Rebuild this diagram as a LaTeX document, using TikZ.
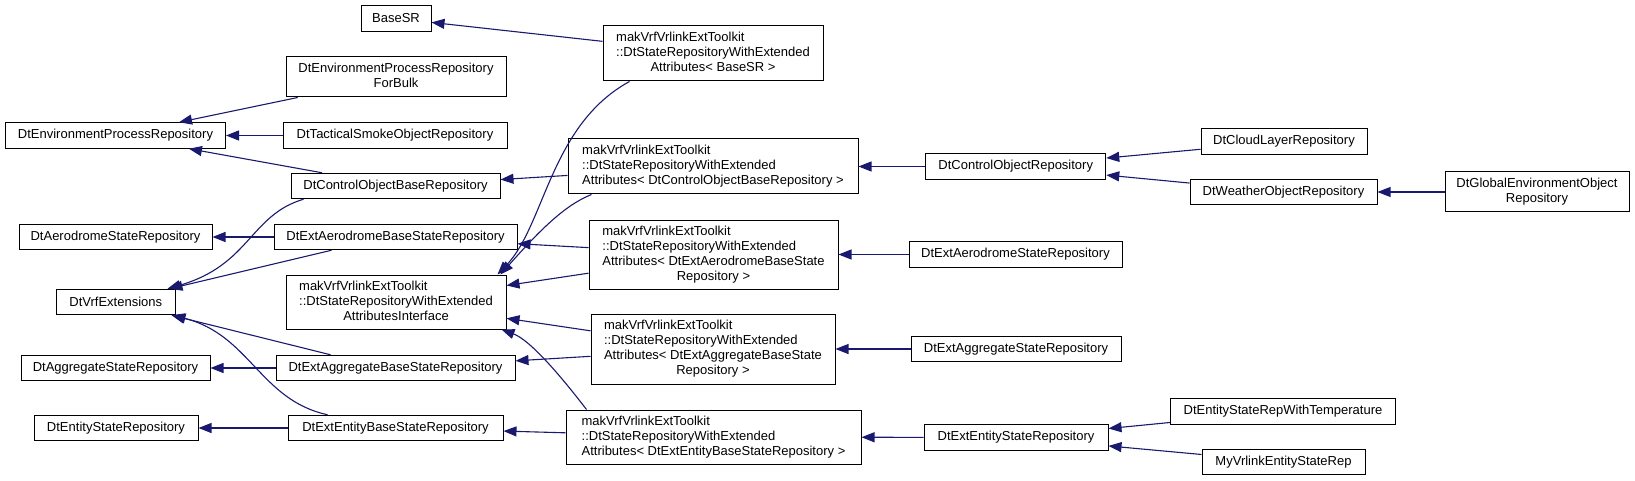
\documentclass[tikz,border=0pt]{standalone}
\usepackage{fontspec}
\setmainfont{Liberation Sans}
\usetikzlibrary{arrows.meta}
\definecolor{edgeblue}{HTML}{191970}
\newcommand{\tmpl}[2]{\begin{tabular}{@{}l@{}}#1\\\multicolumn{1}{@{}c@{}}{#2}\end{tabular}}

\begin{document}
\begin{tikzpicture}[x=1pt,y=-1pt,>={Triangle[length=13pt,width=10pt]},line width=1pt,
  font=\fontsize{13}{15}\selectfont,
  cls/.style={draw=black,fill=white,inner sep=0pt,minimum height=25.5},
  inh/.style={draw=edgeblue,line width=1.1pt,->}]
  \useasboundingbox (0,0) rectangle (1635,481);
  \node[cls,minimum width=70] (basesr) at (396,18.5) {BaseSR};
  \node[cls,minimum width=220,minimum height=40] (forbulk) at (396,77) {\tmpl{DtEnvironmentProcessRepository}{ForBulk}};
  \node[cls,minimum width=220] (epr) at (115.5,135.5) {DtEnvironmentProcessRepository};
  \node[cls,minimum width=224] (smoke) at (395,135.5) {DtTacticalSmokeObjectRepository};
  \node[cls,minimum width=209] (cob) at (395.5,186) {DtControlObjectBaseRepository};
  \node[cls,minimum width=193] (asr) at (115.5,237) {DtAerodromeStateRepository};
  \node[cls,minimum width=243] (eabs) at (395.5,237) {DtExtAerodromeBaseStateRepository};
  \node[cls,minimum width=118.5] (vrf) at (115.75,302) {DtVrfExtensions};
  \node[cls,minimum width=220,minimum height=54] (iface) at (396,302) {\tmpl{makVrfVrlinkExtToolkit\\::DtStateRepositoryWithExtended}{AttributesInterface}};
  \node[cls,minimum width=189] (agsr) at (115.5,368) {DtAggregateStateRepository};
  \node[cls,minimum width=239] (eagbs) at (395.5,368) {DtExtAggregateBaseStateRepository};
  \node[cls,minimum width=164] (esr) at (116,428) {DtEntityStateRepository};
  \node[cls,minimum width=215] (eebs) at (395.5,428) {DtExtEntityBaseStateRepository};

  \node[cls,minimum width=220,minimum height=55] (tbase) at (713,53.5) {\tmpl{makVrfVrlinkExtToolkit\\::DtStateRepositoryWithExtended}{Attributes< BaseSR >}};
  \node[cls,minimum width=290,minimum height=55] (tcob) at (713,166.5) {\tmpl{makVrfVrlinkExtToolkit\\::DtStateRepositoryWithExtended}{Attributes< DtControlObjectBaseRepository >}};
  \node[cls,minimum width=249,minimum height=69] (tae) at (713.5,254.5) {\tmpl{makVrfVrlinkExtToolkit\\::DtStateRepositoryWithExtended\\Attributes< DtExtAerodromeBaseState}{Repository >}};
  \node[cls,minimum width=244,minimum height=70] (tag) at (713,349) {\tmpl{makVrfVrlinkExtToolkit\\::DtStateRepositoryWithExtended\\Attributes< DtExtAggregateBaseState}{Repository >}};
  \node[cls,minimum width=295,minimum height=54] (tent) at (713.5,437) {\tmpl{makVrfVrlinkExtToolkit\\::DtStateRepositoryWithExtended}{Attributes< DtExtEntityBaseStateRepository >}};

  \node[cls,minimum width=180] (cor) at (1015.75,166.5) {DtControlObjectRepository};
  \node[cls,minimum width=213] (easr) at (1015.5,254.5) {DtExtAerodromeStateRepository};
  \node[cls,minimum width=210] (eagsr) at (1016,349) {DtExtAggregateStateRepository};
  \node[cls,minimum width=184] (eesr) at (1016,437.5) {DtExtEntityStateRepository};
  \node[cls,minimum width=166] (cloud) at (1284,141.5) {DtCloudLayerRepository};
  \node[cls,minimum width=187] (weather) at (1283.5,192) {DtWeatherObjectRepository};
  \node[cls,minimum width=225] (temp) at (1283,411.5) {DtEntityStateRepWithTemperature};
  \node[cls,minimum width=163] (myvr) at (1283.5,462) {MyVrlinkEntityStateRep};
  \node[cls,minimum width=184,minimum height=40] (glob) at (1537,192) {\tmpl{DtGlobalEnvironmentObject}{Repository}};

  \draw[inh] (tbase) -- (basesr);
  \draw[inh] (forbulk) -- (epr);
  \draw[inh] (smoke) -- (epr);
  \draw[inh] (cob) -- (epr);
  \draw[inh] (tcob) -- (cob);
  \draw[inh] (eabs) -- (asr);
  \draw[inh] (eagbs) -- (agsr);
  \draw[inh] (eebs) -- (esr);
  \draw[inh] ([xshift=-64]eabs.south) -- ([xshift=-6]vrf.north east);
  \draw[inh] ([xshift=-92]cob.south) .. controls (250,215) and (250,265) .. ([xshift=-8]vrf.north east);
  \draw[inh] ([xshift=-65]eagbs.north) -- ([xshift=-4]vrf.south east);
  \draw[inh] ([xshift=-68]eebs.north) .. controls (260,400) and (250,335) .. ([xshift=-3]vrf.south east);
  \draw[inh] ([xshift=27]tbase.south west) .. controls (550,125) and (545,225) .. ([xshift=-9]iface.north east);
  \draw[inh] ([xshift=24]tcob.south west) .. controls (565,205) and (540,230) .. ([xshift=-6]iface.north east);
  \draw[inh] (tae) -- (iface);
  \draw[inh] (tag) -- (iface);
  \draw[inh] ([xshift=21]tent.north west) .. controls (560,375) and (530,340) .. ([xshift=-5]iface.south east);
  \draw[inh] (tae) -- (eabs);
  \draw[inh] (tag) -- (eagbs);
  \draw[inh] (tent) -- (eebs);
  \draw[inh] (cor) -- (tcob);
  \draw[inh] (cloud) -- (cor);
  \draw[inh] (weather) -- (cor);
  \draw[inh] (glob) -- (weather);
  \draw[inh] (easr) -- (tae);
  \draw[inh] (eagsr) -- (tag);
  \draw[inh] (eesr) -- (tent);
  \draw[inh] (temp) -- (eesr);
  \draw[inh] (myvr) -- (eesr);
\end{tikzpicture}
\end{document}
